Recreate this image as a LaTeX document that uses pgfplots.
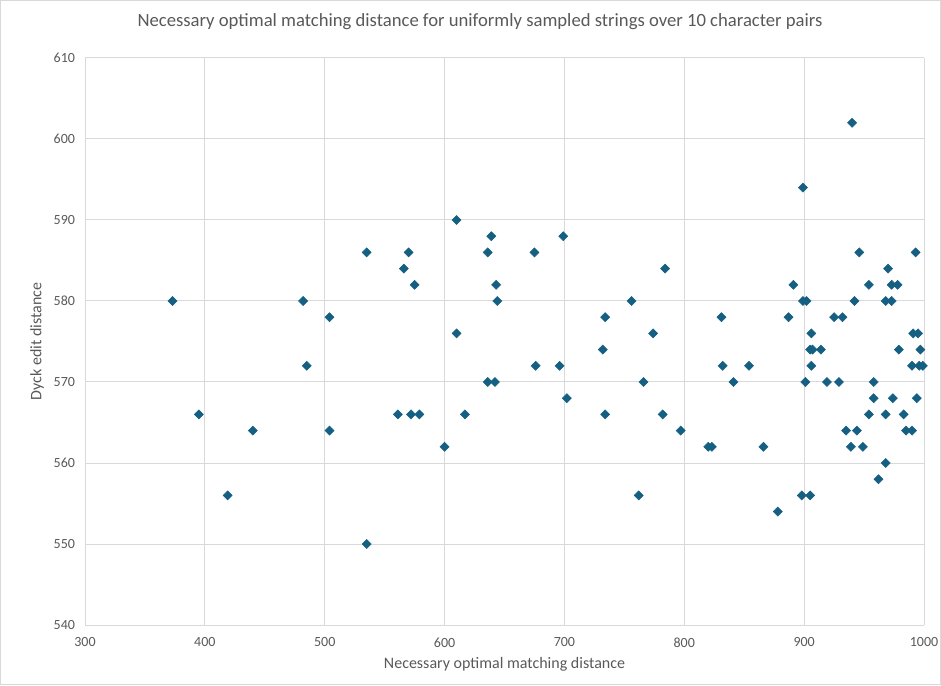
\documentclass[border=0pt]{standalone}
\usepackage{fontspec}
\setmainfont{Carlito}
\usepackage{pgfplots}
\pgfplotsset{compat=1.18}
\definecolor{ptcol}{HTML}{156082}
\definecolor{gridc}{HTML}{D9D9D9}
\definecolor{txtc}{HTML}{595959}
\begin{document}
\begin{tikzpicture}
\useasboundingbox (-63.75pt,-45pt) rectangle (642pt,468.75pt);
\draw[gridc] (-63.4pt,-44.6pt) rectangle (641.6pt,468.4pt);
\begin{axis}[
  at={(0,0)}, anchor=south west,
  scale only axis,
  width=629.25pt, height=425.25pt,
  xmin=300, xmax=1000, ymin=540, ymax=610,
  xtick={300,400,...,1000}, ytick={540,550,...,610},
  grid=major,
  major grid style={gridc, line width=0.75pt},
  axis line style={draw=none},
  major tick length=0pt,
  tick label style={font=\fontsize{10.5}{12}\selectfont, text=txtc},
  /pgf/number format/assume math mode=true,
  /pgf/number format/1000 sep={},
  xticklabel style={yshift=-6pt},
  yticklabel style={xshift=-4pt},
  xlabel={Necessary optimal matching distance},
  ylabel={Dyck edit distance},
  label style={font=\fontsize{12}{14}\selectfont, text=txtc},
  xlabel style={at={(axis description cs:0.5,0)}, anchor=center, yshift=-29.25pt},
  ylabel style={at={(axis description cs:-0.0572,0.5)}, anchor=center},
  title={Necessary optimal matching distance for uniformly sampled strings over 10 character pairs},
  title style={font=\fontsize{14}{16}\selectfont, text=txtc, at={(axis description cs:0.4708,1)}, anchor=center, yshift=21pt},
  clip=false,
]
\addplot[only marks, mark=square*, mark size=2.4pt, mark options={fill=ptcol, draw=ptcol, rotate=45}] table {
x y
373 580
395 566
419 556
440 564
482 580
485 572
504 578
504 564
535 586
535 550
561 566
566 584
570 586
572 566
575 582
579 566
600 562
610 590
610 576
617 566
636 586
636 570
639 588
642 570
643 582
644 580
675 586
676 572
696 572
699 588
702 568
732 574
734 578
734 566
756 580
762 556
766 570
774 576
782 566
784 584
797 564
820 562
823 562
831 578
832 572
841 570
854 572
866 562
878 554
887 578
891 582
898 556
899 594
899 580
902 580
901 570
905 556
905 574
906 576
906 572
907 574
914 574
919 570
925 578
929 570
932 578
935 564
939 562
940 602
942 580
944 564
946 586
949 562
954 582
954 566
958 570
958 568
962 558
968 580
968 566
968 560
970 584
973 580
973 582
974 568
978 582
979 574
983 566
985 564
990 564
990 572
991 576
993 586
994 568
995 576
996 572
997 574
999 572
};
\end{axis}
\end{tikzpicture}
\end{document}
